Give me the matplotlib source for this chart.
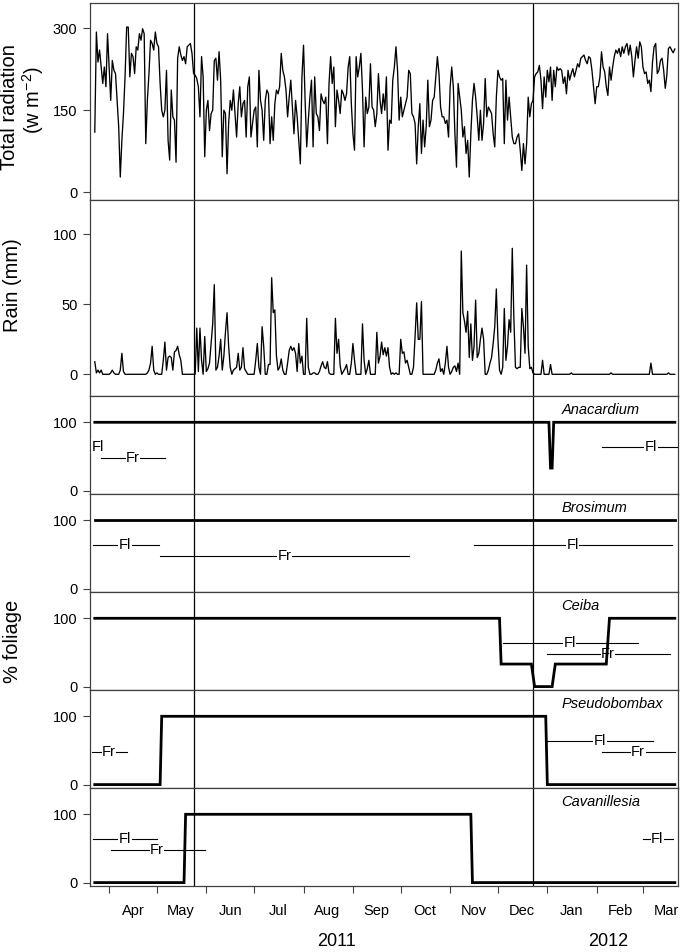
import numpy as np
import matplotlib
matplotlib.use("Agg")
import matplotlib.pyplot as plt

plt.rcParams['font.family'] = ['Liberation Sans', 'DejaVu Sans']
plt.rcParams['mathtext.fontset'] = 'custom'
plt.rcParams['mathtext.rm'] = 'Liberation Sans'

# daily series, first day 2011-03-23
start_date = np.datetime64('2011-03-23')

radiation = [
    110, 293, 238, 260, 229, 199, 229, 193, 290, 229, 168, 241, 223, 217, 168, 120, 28, 95, 144, 211,
    302, 302, 211, 254, 248, 217, 266, 260, 290, 278, 299, 290, 89, 168, 217, 278, 272, 260, 293, 272,
    266, 199, 150, 138, 150, 223, 95, 59, 187, 138, 132, 55, 245, 266, 251, 241, 248, 235, 266, 269,
    272, 254,
    217, 214, 208, 193, 138, 248, 211, 65, 150, 168, 113, 144, 150, 241, 245, 205, 257, 205, 65, 150,
    144, 34, 126, 168, 150, 187, 144, 101, 162, 193, 138, 162, 168, 101, 193, 211, 101, 126, 150, 156,
    83, 223, 168, 150, 95, 168, 187, 180, 89, 138, 95, 162, 187, 180, 193, 254, 223, 211,
    187, 138, 174, 205, 156, 107, 168, 138, 95, 52, 211, 269, 168, 83, 132, 174, 205, 83, 211, 144,
    138, 113, 180, 168, 162, 174, 89, 199, 248, 199, 229, 120, 187, 168, 144, 187, 180, 168, 180, 229,
    248, 162, 107, 77, 248, 211, 229, 254, 187, 83, 174, 144, 156, 235, 156, 150, 120, 144, 217, 168,
    144, 180, 150, 211, 77, 132, 126, 205, 229, 266, 223, 132, 174, 138, 150, 162, 174, 223, 217, 144,
    138, 126, 52, 120, 162, 71, 132, 83, 120, 205, 120, 132, 168, 174, 211, 248, 217, 156, 138, 138,
    126, 132, 101, 193, 229, 193, 107, 46, 199, 174, 150, 101, 120, 71, 95, 28, 107, 168, 199, 174,
    138,
    95, 150, 95, 126, 208, 138, 156, 150, 144, 107, 83, 174, 223, 211, 205, 208, 89, 205, 132, 174,
    138, 101, 89, 89, 101, 107, 77, 40, 89, 52, 89, 174, 138, 162, 168, 211, 217, 220, 232, 205,
    153, 211, 174, 223, 202, 229, 168, 223, 193, 229, 223, 226, 223, 199, 211, 180, 223, 205, 217, 226,
    211, 223, 235, 229, 245, 248, 251, 241, 235, 248, 245, 223, 193, 162, 193, 193, 211, 257, 229, 220,
    193, 177, 229, 205, 229, 248, 260, 254, 263, 248, 266, 254, 266, 272, 251, 269, 248, 211, 241, 266,
    245, 275, 266, 229, 217, 220, 199, 205, 184, 238, 266, 272, 217, 223, 241, 245, 223, 190, 214, 263,
    266, 260, 255, 262,
]

rain = [
    9, 1, 3, 1, 3, 0, 0, 0, 0, 0, 1, 3, 1, 0, 0, 0, 3, 15, 2,
    0, 0, 0, 0, 0, 0, 0, 0, 0, 0, 0, 0, 0, 0,
    1, 3, 8, 20, 3, 0, 1, 0, 0, 0,
    10, 23, 3, 12, 13, 12, 3, 16, 17, 20, 14, 10, 0,
    0, 0, 0, 0, 0, 0, 0, 0,
    33, 2, 33, 10, 0, 27, 2, 4, 8, 22, 36, 64, 3,
    5, 13, 25, 3, 13, 30, 44, 20, 5, 0, 3, 4, 5, 15, 3, 5, 19, 4, 2,
    0, 0, 0, 0, 0,
    10, 22, 5, 0, 34, 20, 0, 0, 7, 7, 69, 44, 46, 13, 3, 5, 11, 3, 0,
    0, 8, 17, 20, 17, 19, 15, 2, 22, 8, 13, 0, 0, 40, 5, 0,
    0, 1, 1, 0, 0, 2,
    6, 9, 5, 4, 9, 1, 0, 0, 0,
    40, 15, 25, 6, 0, 2, 4, 7, 0, 0, 8, 22, 10,
    0, 0, 0, 0,
    36, 10, 0, 4, 10, 0, 0, 0, 0,
    30, 8, 13, 23, 14, 19, 13, 19, 5,
    0, 1, 0, 1, 0, 0,
    25, 15, 16, 8, 10, 5, 0, 0, 5,
    27, 51, 25, 25, 52, 0,
    0, 0, 0, 0, 0, 0, 0,
    3, 8, 11, 2, 4, 0, 8, 20, 5, 0, 2, 5, 6, 2, 8, 0,
    88, 44, 38, 30, 45, 12, 36, 10, 20, 53, 12,
    15, 25, 33, 25, 0, 0, 3, 8, 12, 22, 34, 61, 25, 3, 0, 5, 47, 10, 20, 39,
    30, 90, 40, 5, 4, 5, 5, 47, 34, 15, 78, 20, 4, 5, 1, 0,
    0, 0, 0, 0, 10, 0, 0, 0, 0, 7,
    0, 0, 0, 0, 0, 0, 0, 0, 0, 0, 0, 0, 1,
    0, 0, 0, 0, 0, 0, 0, 0, 0, 0, 0, 0, 0, 0, 0, 0, 0, 0, 0, 0, 0, 0, 0, 0, 1,
    0, 0, 0, 0, 0, 0, 0, 0, 0, 0, 0, 0, 0, 0, 0, 0, 0, 0, 0, 0, 0, 0, 0, 0, 8,
    0, 0, 0, 0, 0, 0, 0, 0, 0, 0, 1, 0, 0, 0, 0,
]

species = ['Anacardium', 'Brosimum', 'Ceiba', 'Pseudobombax', 'Cavanillesia']

# % foliage at survey dates
anacardium_dates = ['2011-03-23', '2012-01-02', '2012-01-03', '2012-01-04', '2012-01-05', '2012-03-21']
anacardium_foliage = [100, 100, 33, 33, 100, 100]
brosimum_dates = ['2011-03-23', '2012-03-21']
brosimum_foliage = [100, 100]
ceiba_dates = ['2011-03-23', '2011-12-02', '2011-12-03', '2011-12-22', '2011-12-24',
               '2012-01-04', '2012-01-06', '2012-02-07', '2012-02-09', '2012-03-21']
ceiba_foliage = [100, 100, 33, 33, 0, 0, 33, 33, 100, 100]
pseudobombax_dates = ['2011-03-23', '2011-05-03', '2011-05-04', '2011-12-31', '2012-01-01', '2012-03-21']
pseudobombax_foliage = [0, 0, 100, 100, 0, 0]
cavanillesia_dates = ['2011-03-23', '2011-05-18', '2011-05-19', '2011-11-14', '2011-11-15', '2012-03-21']
cavanillesia_foliage = [0, 0, 100, 100, 0, 0]

# flowering (Fl) and fruiting (Fr) periods
anacardium_pheno = [('Fl', '2011-03-21', '2011-03-29'), ('Fr', '2011-03-27', '2011-05-06'),
                    ('Fl', '2012-02-04', '2012-04-07')]
brosimum_pheno = [('Fl', '2011-03-22', '2011-05-02'), ('Fr', '2011-05-03', '2011-10-06'),
                  ('Fl', '2011-11-16', '2012-03-19')]
ceiba_pheno = [('Fl', '2011-12-04', '2012-02-27'), ('Fr', '2012-01-01', '2012-03-18')]
pseudobombax_pheno = [('Fr', '2011-03-21', '2011-04-12'), ('Fl', '2012-01-01', '2012-03-07'),
                      ('Fr', '2012-02-04', '2012-03-21')]
cavanillesia_pheno = [('Fl', '2011-03-22', '2011-05-01'), ('Fr', '2011-04-02', '2011-05-31'),
                      ('Fl', '2012-03-01', '2012-03-20')]

season_lines = ['2011-05-24', '2011-12-23']
month_names = ['Apr', 'May', 'Jun', 'Jul', 'Aug', 'Sep', 'Oct', 'Nov', 'Dec', 'Jan', 'Feb', 'Mar']

foliage_dates = [anacardium_dates, brosimum_dates, ceiba_dates, pseudobombax_dates, cavanillesia_dates]
foliage_vals = [anacardium_foliage, brosimum_foliage, ceiba_foliage, pseudobombax_foliage, cavanillesia_foliage]
phenos = [anacardium_pheno, brosimum_pheno, ceiba_pheno, pseudobombax_pheno, cavanillesia_pheno]

days = start_date + np.arange(len(radiation))
xmin, xmax = np.datetime64('2011-03-20'), np.datetime64('2012-03-23')
month_starts = np.arange(np.datetime64('2011-04'), np.datetime64('2012-04'), dtype='datetime64[M]')
mid_months = month_starts.astype('datetime64[D]') + 15

W, H = 682, 952
fig = plt.figure(figsize=(W / 100, H / 100), dpi=100)
spine_col = '#404040'


def panel(top, bottom):
    ax = fig.add_axes([90 / W, 1 - bottom / H, 588 / W, (bottom - top) / H])
    for s in ax.spines.values():
        s.set_color(spine_col)
        s.set_linewidth(0.9)
    ax.set_xlim(xmin, xmax)
    ax.set_xticks([])
    ax.tick_params(axis='y', length=5, width=0.8, color=spine_col, pad=4, labelsize=10.5)
    for d in season_lines:
        ax.axvline(np.datetime64(d), color='black', lw=0.9, zorder=2)
    return ax


ax_rad = panel(3, 200)
ax_rad.plot(days, radiation, color='black', lw=0.95)
ax_rad.set_ylim(-14, 346)
ax_rad.set_yticks([0, 150, 300])

ax_rain = panel(200, 396)
ax_rain.plot(days, rain, color='black', lw=0.95)
ax_rain.set_ylim(-15.5, 124.5)
ax_rain.set_yticks([0, 50, 100])

tops = [396, 494, 592, 690, 788]
fl_y, fr_y = 64, 47
axes_fol = []
for i, name in enumerate(species):
    ax = panel(tops[i], tops[i] + 98)
    ax.plot(np.array(foliage_dates[i], dtype='datetime64[D]'), foliage_vals[i],
            color='black', lw=2.0, zorder=5, solid_joinstyle='miter')
    for lab, d0, d1 in phenos[i]:
        y = fl_y if lab == 'Fl' else fr_y
        a, b = np.datetime64(d0), np.datetime64(d1)
        ax.plot([a, b], [y, y], color='black', lw=0.8, zorder=3)
        mid = a + (b - a) / 2
        ax.text(mid, y, lab, ha='center', va='center', fontsize=10.5, zorder=4,
                bbox=dict(facecolor='white', edgecolor='none', pad=0.3), clip_on=True)
    ax.text(np.datetime64('2012-01-10'), 118, name, style='italic', fontsize=10.5,
            ha='left', va='center')
    ax.set_ylim(-5, 138.5)
    ax.set_yticks([0, 100])
    axes_fol.append(ax)

ax_b = axes_fol[-1]
ax_b.set_xticks(month_starts.astype('datetime64[D]'))
ax_b.set_xticklabels([''] * len(month_starts))
ax_b.set_xticks(mid_months, minor=True)
ax_b.set_xticklabels(month_names, minor=True)
ax_b.tick_params(axis='x', which='major', length=5, width=0.8, color=spine_col)
ax_b.tick_params(axis='x', which='minor', length=0, pad=13, labelsize=10.5)
ax_b.set_xlim(xmin, xmax)
ax_b.text(np.datetime64('2011-08-22'), -0.57, '2011', transform=ax_b.get_xaxis_transform(),
          ha='center', va='center', fontsize=13)
ax_b.text(np.datetime64('2012-02-08'), -0.57, '2012', transform=ax_b.get_xaxis_transform(),
          ha='center', va='center', fontsize=13)

fig.text(10 / W, 1 - 107 / H, 'Total radiation', rotation=90, ha='center', va='center', fontsize=14.5)
fig.text(33 / W, 1 - 100 / H, '(w m$^{-2}$)', rotation=90, ha='center', va='center', fontsize=14.5)
fig.text(12 / W, 1 - 285 / H, 'Rain (mm)', rotation=90, ha='center', va='center', fontsize=14.5)
fig.text(12 / W, 1 - 641 / H, '% foliage', rotation=90, ha='center', va='center', fontsize=14.5)

fig.savefig('out.png', dpi=100)
